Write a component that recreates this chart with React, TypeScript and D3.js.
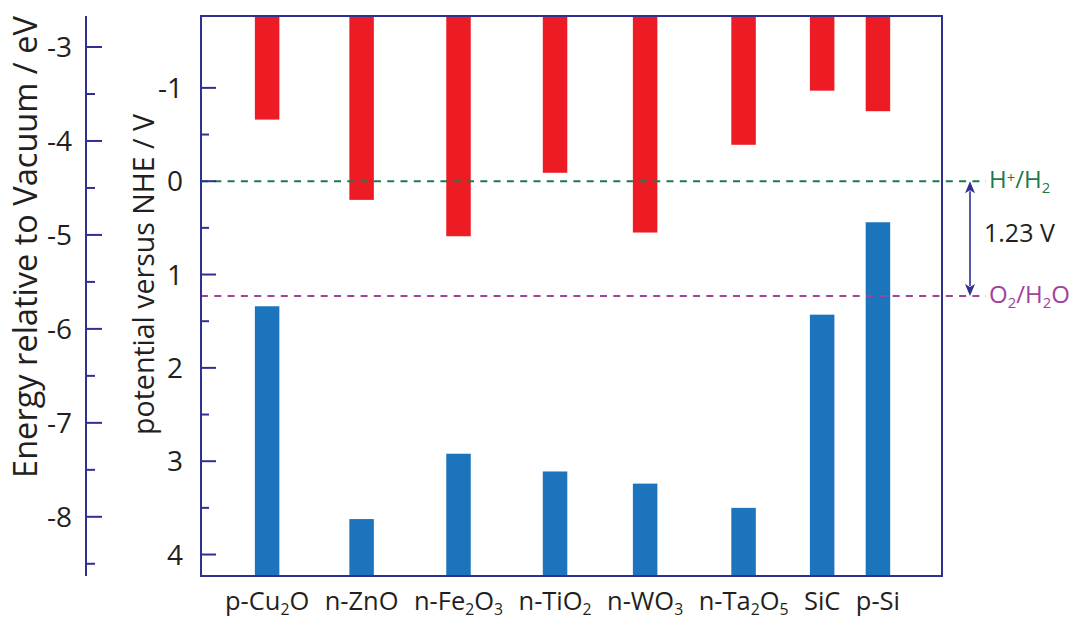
import React, { useEffect, useRef } from 'react';
import * as d3 from 'd3';

// ---------- data ----------
const categories = ['p-Cu_2O', 'n-ZnO', 'n-Fe_2O_3', 'n-TiO_2', 'n-WO_3', 'n-Ta_2O_5', 'SiC', 'p-Si'];
const conductionBand = [-0.66, 0.2, 0.59, -0.09, 0.55, -0.39, -0.97, -0.75];
const valenceBand = [1.34, 3.62, 2.92, 3.11, 3.24, 3.5, 1.43, 0.44];
const nheMajorTicks = [-1, 0, 1, 2, 3, 4];
const nheMinorTicks = [-0.5, 0.5, 1.5, 2.5, 3.5];
const vacuumMajorTicks = [-3, -4, -5, -6, -7, -8];
const vacuumMinorTicks = [-3.5, -4.5, -5.5, -6.5, -7.5, -8.5];
const redoxLabels = ['H^+/H_2', 'O_2/H_2O'];
const redoxPotentials = [0, 1.23];
const gapLabel = '1.23 V';
const vacuumTitle = 'Energy relative to Vacuum / eV';
const nheTitle = 'potential versus NHE / V';

// ---------- layout / style ----------
const W = 1074;
const H = 617;
const frame = { left: 201, right: 942, top: 16, bottom: 576 };
const energyAxisX = 86;
const FONT = "'Open Sans', 'DejaVu Sans', sans-serif";
const C = {
  axis: '#2E3192',
  red: '#ED1C24',
  blue: '#1C75BC',
  green: '#1B7B4B',
  purple: '#A1429D',
  text: '#231F20',
};
const redoxColors = [C.green, C.purple];

type Seg = { t: string; k: 'n' | 'sub' | 'sup' };
function parseRich(s: string): Seg[] {
  const out: Seg[] = [];
  let buf = '';
  let i = 0;
  while (i < s.length) {
    const c = s[i];
    if (c === '_' || c === '^') {
      if (buf) out.push({ t: buf, k: 'n' });
      buf = '';
      out.push({ t: s[i + 1], k: c === '_' ? 'sub' : 'sup' });
      i += 2;
    } else {
      buf += c;
      i++;
    }
  }
  if (buf) out.push({ t: buf, k: 'n' });
  return out;
}

function addRich(sel: any, s: string, size: number) {
  sel.selectAll('tspan').remove();
  let cur = 0;
  parseRich(s).forEach((seg) => {
    const off = seg.k === 'sub' ? size * 0.2 : seg.k === 'sup' ? -size * 0.2 : 0;
    const fs = seg.k === 'n' ? size : size * 0.62;
    sel.append('tspan').attr('dy', off - cur).attr('font-size', fs).text(seg.t);
    cur = off;
  });
}

export default function App() {
  const ref = useRef<SVGSVGElement | null>(null);

  useEffect(() => {
    const svg = d3.select(ref.current);
    svg.selectAll('*').remove();

    const yV = d3.scaleLinear().domain([-1.77, 4.23]).range([frame.top, frame.bottom]);
    const yE = d3.scaleLinear().domain([-2.67, -8.63]).range([frame.top, frame.bottom]);

    const gBars = svg.append('g');
    const gLines = svg.append('g');
    const gAxes = svg.append('g');
    const gText = svg.append('g').attr('font-family', FONT).attr('fill', C.text);

    // ----- category labels laid out as a text line, bars centered on them -----
    const baseSize = 24;
    const labelStart = 225;
    const labelEnd = 900;
    const labelInk = 567; // total width taken by the label glyphs in the line
    const labelBaseline = 610;
    const labelTexts = categories.map((c) => {
      const t = gText.append('text').attr('x', 0).attr('y', labelBaseline).attr('font-size', baseSize);
      addRich(t, c, baseSize);
      return t;
    });
    const w0 = d3.sum(labelTexts.map((t) => (t.node() as SVGTextElement).getBBox().width));
    const labelSize = (baseSize * labelInk) / w0;
    labelTexts.forEach((t, i) => {
      t.attr('font-size', labelSize);
      addRich(t, categories[i], labelSize);
    });
    const widths = labelTexts.map((t) => (t.node() as SVGTextElement).getBBox().width);
    const totalW = d3.sum(widths);
    const gap = (labelEnd - labelStart - totalW) / (categories.length - 1);
    const centers: number[] = [];
    let cx = labelStart;
    labelTexts.forEach((t, i) => {
      t.attr('x', cx);
      centers.push(cx + widths[i] / 2);
      cx += widths[i] + gap;
    });
    const x = d3.scaleOrdinal<string, number>().domain(categories).range(centers);
    const barW = 24.5;

    // ----- bars -----
    gBars
      .selectAll('rect.cb')
      .data(categories)
      .join('rect')
      .attr('class', 'cb')
      .attr('x', (d) => x(d) - barW / 2)
      .attr('width', barW)
      .attr('y', frame.top)
      .attr('height', (d, i) => yV(conductionBand[i]) - frame.top)
      .attr('fill', C.red);
    gBars
      .selectAll('rect.vb')
      .data(categories)
      .join('rect')
      .attr('class', 'vb')
      .attr('x', (d) => x(d) - barW / 2)
      .attr('width', barW)
      .attr('y', (d, i) => yV(valenceBand[i]))
      .attr('height', (d, i) => frame.bottom - yV(valenceBand[i]))
      .attr('fill', C.blue);

    // ----- redox dashed lines -----
    const lineEnd = 986;
    redoxPotentials.forEach((v, i) => {
      gLines
        .append('line')
        .attr('x1', frame.left)
        .attr('x2', lineEnd)
        .attr('y1', yV(v))
        .attr('y2', yV(v))
        .attr('stroke', redoxColors[i])
        .attr('stroke-width', 2)
        .attr('stroke-dasharray', '7,6.3');
      const t = gText
        .append('text')
        .attr('x', 989)
        .attr('y', yV(v) + 7)
        .attr('font-size', 24)
        .attr('fill', redoxColors[i]);
      addRich(t, redoxLabels[i], 24);
    });

    // ----- double arrow -----
    const ax = 970;
    const yTop = yV(redoxPotentials[0]);
    const yBot = yV(redoxPotentials[1]);
    const ah = 12;
    const aw = 5;
    gLines
      .append('line')
      .attr('x1', ax)
      .attr('x2', ax)
      .attr('y1', yTop + ah - 2)
      .attr('y2', yBot - ah + 2)
      .attr('stroke', C.axis)
      .attr('stroke-width', 1.6);
    gLines
      .append('path')
      .attr('d', `M${ax},${yTop} L${ax - aw},${yTop + ah} L${ax},${yTop + ah - 3} L${ax + aw},${yTop + ah} Z`)
      .attr('fill', C.axis);
    gLines
      .append('path')
      .attr('d', `M${ax},${yBot} L${ax - aw},${yBot - ah} L${ax},${yBot - ah + 3} L${ax + aw},${yBot - ah} Z`)
      .attr('fill', C.axis);
    gText
      .append('text')
      .attr('x', 984)
      .attr('y', (yTop + yBot) / 2 + 3)
      .attr('font-size', 25)
      .text(gapLabel);

    // ----- frame -----
    gAxes
      .append('rect')
      .attr('x', frame.left)
      .attr('y', frame.top)
      .attr('width', frame.right - frame.left)
      .attr('height', frame.bottom - frame.top)
      .attr('fill', 'none')
      .attr('stroke', C.axis)
      .attr('stroke-width', 2);

    // NHE ticks (inside frame)
    nheMajorTicks.forEach((v) => {
      gAxes
        .append('line')
        .attr('x1', frame.left)
        .attr('x2', frame.left + 15)
        .attr('y1', yV(v))
        .attr('y2', yV(v))
        .attr('stroke', C.axis)
        .attr('stroke-width', 2);
      gText
        .append('text')
        .attr('x', 183)
        .attr('y', yV(v))
        .attr('dy', '0.36em')
        .attr('text-anchor', 'end')
        .attr('font-size', 28)
        .text(String(v));
    });
    nheMinorTicks.forEach((v) => {
      gAxes
        .append('line')
        .attr('x1', frame.left)
        .attr('x2', frame.left + 8)
        .attr('y1', yV(v))
        .attr('y2', yV(v))
        .attr('stroke', C.axis)
        .attr('stroke-width', 2);
    });

    // Vacuum energy axis
    gAxes
      .append('line')
      .attr('x1', energyAxisX)
      .attr('x2', energyAxisX)
      .attr('y1', frame.top)
      .attr('y2', frame.bottom)
      .attr('stroke', C.axis)
      .attr('stroke-width', 2);
    vacuumMajorTicks.forEach((v) => {
      gAxes
        .append('line')
        .attr('x1', energyAxisX)
        .attr('x2', energyAxisX + 16)
        .attr('y1', yE(v))
        .attr('y2', yE(v))
        .attr('stroke', C.axis)
        .attr('stroke-width', 2);
      gText
        .append('text')
        .attr('x', 72)
        .attr('y', yE(v))
        .attr('dy', '0.36em')
        .attr('text-anchor', 'end')
        .attr('font-size', 28)
        .text(String(v));
    });
    vacuumMinorTicks.forEach((v) => {
      gAxes
        .append('line')
        .attr('x1', energyAxisX)
        .attr('x2', energyAxisX + 9)
        .attr('y1', yE(v))
        .attr('y2', yE(v))
        .attr('stroke', C.axis)
        .attr('stroke-width', 2);
    });

    // axis titles, sized to span the same length as in the figure
    const addTitle = (text: string, bx: number, cy: number, len: number) => {
      const t = gText
        .append('text')
        .attr('transform', `translate(${bx},${cy}) rotate(-90)`)
        .attr('text-anchor', 'middle')
        .attr('font-size', 30)
        .text(text);
      const l = (t.node() as SVGTextElement).getComputedTextLength();
      t.attr('font-size', (30 * len) / l);
    };
    addTitle(vacuumTitle, 36.5, 247, 462);
    addTitle(nheTitle, 154, 274.5, 321);
  }, []);

  return (
    <svg
      ref={ref}
      width={W}
      height={H}
      style={{ position: 'absolute', left: 0, top: 0, background: '#fff' }}
    />
  );
}
